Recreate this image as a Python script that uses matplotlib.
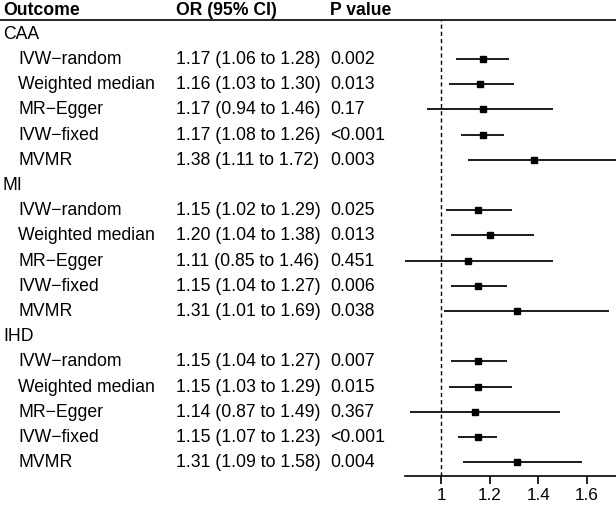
import matplotlib
matplotlib.use('Agg')
import matplotlib.pyplot as plt
from matplotlib.lines import Line2D
from matplotlib.transforms import blended_transform_factory

plt.rcParams['font.family'] = ['Liberation Sans', 'DejaVu Sans']

outcomes = ['CAA', 'MI', 'IHD']
methods = ['IVW\u2212random', 'Weighted median', 'MR\u2212Egger', 'IVW\u2212fixed', 'MVMR']

or_caa = [1.17, 1.16, 1.17, 1.17, 1.38]
lo_caa = [1.06, 1.03, 0.94, 1.08, 1.11]
hi_caa = [1.28, 1.30, 1.46, 1.26, 1.72]
p_caa = ['0.002', '0.013', '0.17', '<0.001', '0.003']

or_mi = [1.15, 1.20, 1.11, 1.15, 1.31]
lo_mi = [1.02, 1.04, 0.85, 1.04, 1.01]
hi_mi = [1.29, 1.38, 1.46, 1.27, 1.69]
p_mi = ['0.025', '0.013', '0.451', '0.006', '0.038']

or_ihd = [1.15, 1.15, 1.14, 1.15, 1.31]
lo_ihd = [1.04, 1.03, 0.87, 1.07, 1.09]
hi_ihd = [1.27, 1.29, 1.49, 1.23, 1.58]
p_ihd = ['0.007', '0.015', '0.367', '<0.001', '0.004']

ticks = [1, 1.2, 1.4, 1.6]
tick_labels = ['1', '1.2', '1.4', '1.6']

groups = [(or_caa, lo_caa, hi_caa, p_caa),
          (or_mi, lo_mi, hi_mi, p_mi),
          (or_ihd, lo_ihd, hi_ihd, p_ihd)]

W, H = 616, 506
fig = plt.figure(figsize=(W / 100, H / 100), dpi=100)
ax = fig.add_axes([405 / W, 1 - 476.7 / H, (W - 405) / W, (476.7 - 21) / H])

fs = 12.7
off = 0.16  # baseline offset below row centre
tr = blended_transform_factory(fig.transFigure, ax.transData)

def txt(x, y, s, **kw):
    ax.text(x / W, y, s, transform=tr, fontsize=fs, va='baseline', clip_on=False, **kw)

# header
txt(3, -0.79, 'Outcome', fontweight='bold')
txt(176, -0.79, 'OR (95% CI)', fontweight='bold')
txt(330, -0.79, 'P value', fontweight='bold')
fig.add_artist(Line2D([0, 1], [1 - 21 / H, 1 - 21 / H], transform=fig.transFigure, color='black', lw=1.2))

row = 0
for name, (ors, los, his, ps) in zip(outcomes, groups):
    txt(3, row + off, name)
    row += 1
    for m, o, l, h, p in zip(methods, ors, los, his, ps):
        txt(18, row + off, m)
        txt(176, row + off, '%.2f (%.2f to %.2f)' % (o, l, h))
        txt(330, row + off, p)
        ax.plot([l, h], [row, row], color='black', lw=1.25, clip_on=False, solid_capstyle='butt')
        ax.plot(o, row, marker='s', color='black', markersize=4.5, clip_on=False)
        row += 1

ax.axvline(1, color='black', lw=1, ls=(0, (3, 2.2)))
ax.set_xlim(0.85, 1.72)
ax.set_ylim((476.7 - 34.8) / 25.2, (21 - 34.8) / 25.2)
ax.set_xticks(ticks)
ax.set_xticklabels(tick_labels, fontsize=12.3)
ax.set_yticks([])
for s in ['top', 'left', 'right']:
    ax.spines[s].set_visible(False)
ax.spines['bottom'].set_linewidth(1.2)
ax.tick_params(axis='x', length=5.8, width=1.2, pad=2.5)

fig.savefig('out.png', dpi=100)
